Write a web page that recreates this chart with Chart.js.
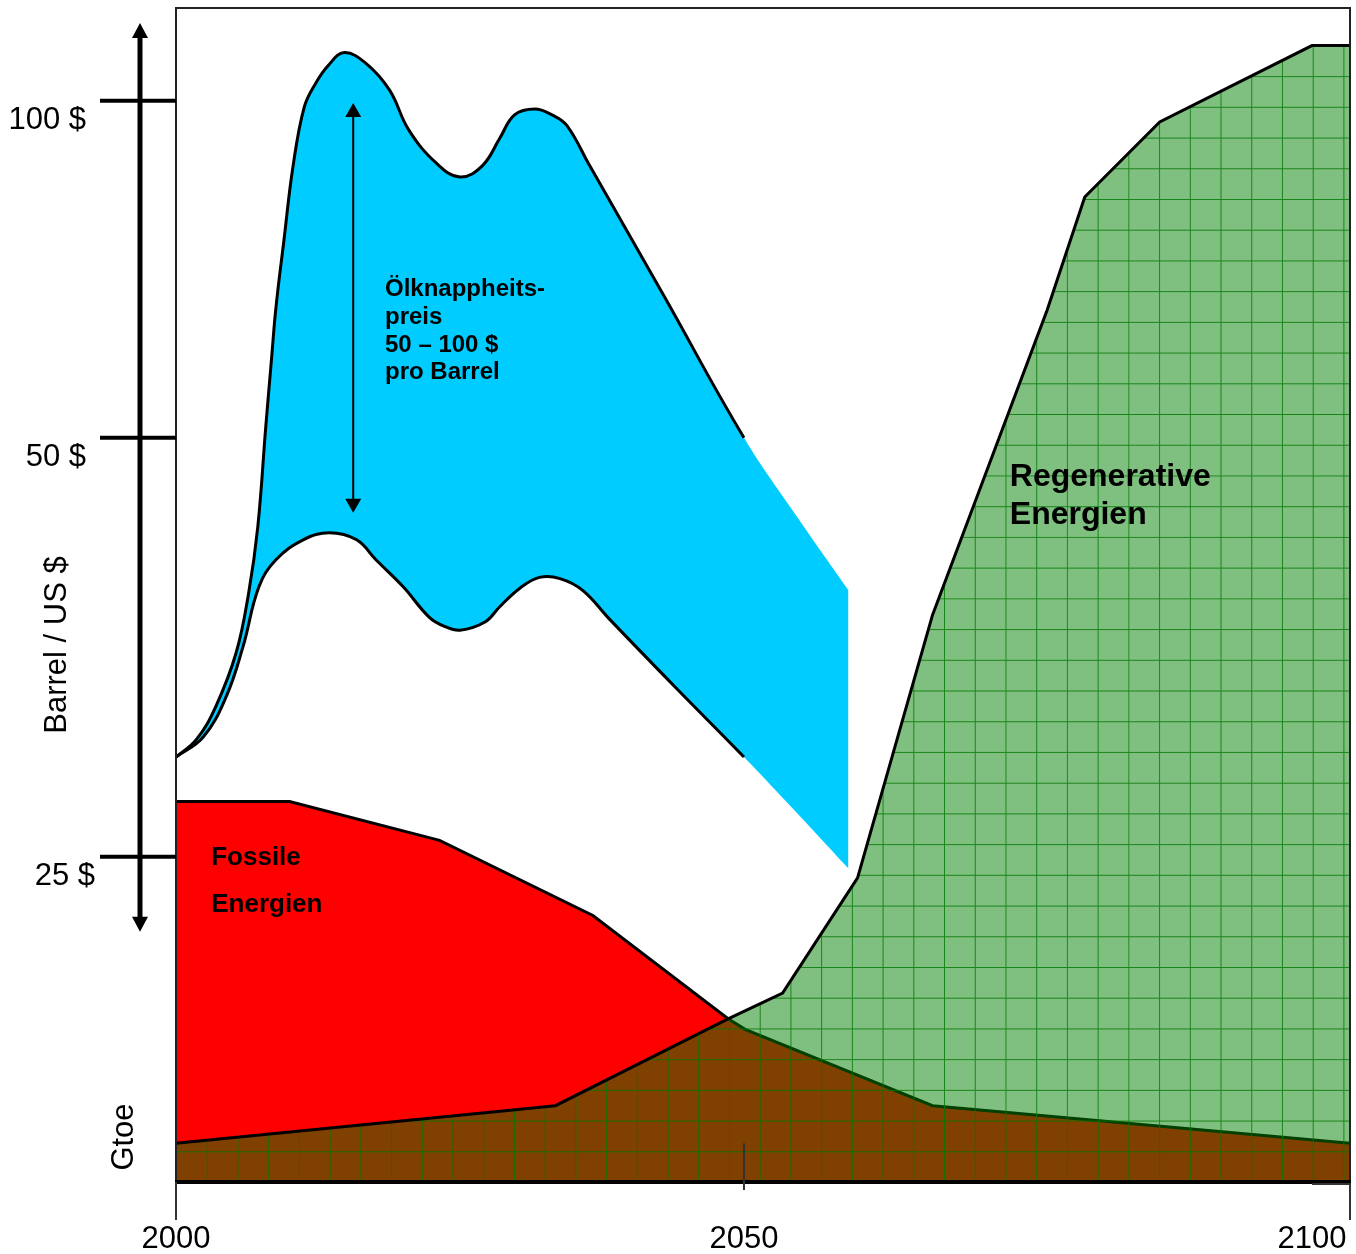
<!DOCTYPE html>
<html>
<head>
<meta charset="utf-8">
<script src="https://cdn.jsdelivr.net/npm/chart.js@4.4.1/dist/chart.umd.min.js"></script>
<style>
  html, body { margin: 0; padding: 0; background: #fff; }
  #wrap { width: 1356px; height: 1254px; position: relative; }
</style>
</head>
<body>
<div id="wrap"><canvas id="energie"></canvas></div>
<script>
/* ===================== DATEN ===================== */
// Jahre / Werte (Hoehe in % der Achse)
const preisObenJahre = [2000, 2001.8, 2003.5, 2005.3, 2006.4, 2007.2, 2007.9, 2008.4, 2008.8, 2009.5, 2010.3, 2011.3, 2012.3, 2013.4, 2014.8, 2016.7, 2018.8, 2020.5, 2022.9, 2025.0, 2027.0, 2028.5, 2029.8, 2031.6, 2033.1, 2034.4, 2036.4, 2043.0, 2050.0, 2054.5, 2059.2];
const preisObenWerte = [36.2, 37.7, 40.5, 45.1, 50.2, 55.8, 64.3, 70.0, 74.5, 80.2, 86.5, 91.6, 93.6, 95.1, 96.2, 95.3, 93.0, 89.6, 86.8, 85.6, 86.6, 88.9, 90.9, 91.4, 90.9, 90.0, 86.6, 75.4, 63.4, 56.9, 50.4];

const preisUntenJahre = [2000, 2002.4, 2004.4, 2005.9, 2007.3, 2008.8, 2011.2, 2013.5, 2015.9, 2017.6, 2020.0, 2022.3, 2023.7, 2025.0, 2027.2, 2028.5, 2030.3, 2032.0, 2033.8, 2035.8, 2038.2, 2044.0, 2050.0, 2054.5, 2059.2];
const preisUntenWerte = [36.2, 37.9, 41.3, 45.6, 50.7, 53.0, 54.7, 55.3, 54.7, 53.0, 50.7, 48.1, 47.3, 47.0, 47.7, 49.0, 50.6, 51.5, 51.4, 50.4, 47.9, 42.1, 36.2, 31.6, 26.7];

const fossilJahre = [2000, 2010.0, 2023.2, 2036.7, 2048.6, 2050.1, 2066.6, 2103.35];
const fossilWerte = [32.4, 32.4, 29.1, 22.7, 13.9, 13.0, 6.5, 3.3];

const regenJahre = [2000, 2033.4, 2048.6, 2053.4, 2060.0, 2066.6, 2076.7, 2080.0, 2086.6, 2100.0, 2103.35];
const regenWerte = [3.3, 6.5, 13.9, 16.1, 25.9, 48.3, 74.3, 83.9, 90.3, 96.8, 96.8];

const jahrTicks = [2000, 2050, 2100];
const preisTickLabels = ["100 $", "50 $", "25 $"];
const preisTickWerte = [92.1, 63.4, 27.7];

/* ===================== UTIL ===================== */
const punkte = (xs, ys) => xs.map((x, i) => ({ x, y: ys[i] }));
const SCHRIFT = '"Liberation Sans", Arial, sans-serif';

const bisJahr2050 = {
  borderColor: (s) => (s.p0.parsed.x >= 2050 ? "rgba(0,0,0,0)" : "#000"),
};

function gitterMuster(ctx, a) {
  const t = document.createElement("canvas");
  t.width = 31;
  t.height = 31;
  const g = t.getContext("2d");
  g.fillStyle = "rgba(0,128,0,0.5)";
  g.fillRect(0, 0, 31, 31);
  g.fillStyle = "rgba(0,120,0,0.8)";
  g.fillRect(0, 0, 31, 1);
  g.fillRect(0, 1, 1, 30);
  const p = ctx.createPattern(t, "repeat");
  p.setTransform(new DOMMatrix().translate(a.left, a.bottom).scale(30.72 / 31));
  return p;
}

function pfeil(ctx, x, yOben, yUnten, dicke, kopfL, kopfB) {
  ctx.lineWidth = dicke;
  ctx.beginPath();
  ctx.moveTo(x, yOben + kopfL - 1);
  ctx.lineTo(x, yUnten - kopfL + 1);
  ctx.stroke();
  ctx.beginPath();
  ctx.moveTo(x, yOben);
  ctx.lineTo(x - kopfB, yOben + kopfL);
  ctx.lineTo(x + kopfB, yOben + kopfL);
  ctx.closePath();
  ctx.moveTo(x, yUnten);
  ctx.lineTo(x - kopfB, yUnten - kopfL);
  ctx.lineTo(x + kopfB, yUnten - kopfL);
  ctx.closePath();
  ctx.fill();
}

/* ===================== ACHSEN + TEXTE ===================== */
const deko = {
  id: "deko",
  afterDatasetsDraw(chart) {
    const { ctx, chartArea: a, scales } = chart;
    const sx = scales.x, sy = scales.y;
    ctx.save();

    // Rahmen
    ctx.strokeStyle = "#222";
    ctx.lineWidth = 2;
    ctx.beginPath();
    ctx.moveTo(a.left, a.bottom);
    ctx.lineTo(a.left, a.top);
    ctx.lineTo(a.right, a.top);
    ctx.lineTo(a.right, a.bottom);
    ctx.stroke();
    ctx.lineWidth = 4;
    ctx.strokeStyle = "#000";
    ctx.beginPath();
    ctx.moveTo(a.left - 1, a.bottom);
    ctx.lineTo(a.right + 1, a.bottom);
    ctx.stroke();

    // Jahres-Ticks
    ctx.strokeStyle = "#333";
    ctx.lineWidth = 2;
    ctx.beginPath();
    ctx.moveTo(a.left, a.bottom);
    ctx.lineTo(a.left, a.bottom + 38);
    ctx.moveTo(sx.getPixelForValue(2050), sy.getPixelForValue(3.3));
    ctx.lineTo(sx.getPixelForValue(2050), a.bottom + 8);
    ctx.moveTo(a.right - 38, a.bottom + 2);
    ctx.lineTo(a.right, a.bottom + 2);
    ctx.lineTo(a.right, a.bottom + 38);
    ctx.stroke();

    ctx.fillStyle = "#000";
    ctx.font = "31px " + SCHRIFT;
    ctx.textAlign = "center";
    ctx.textBaseline = "middle";
    jahrTicks.forEach((j) => ctx.fillText(String(j), sx.getPixelForValue(j), a.bottom + 57));

    // Preisachse
    const ax = a.left - 36;
    ctx.strokeStyle = "#000";
    ctx.fillStyle = "#000";
    pfeil(ctx, ax, a.top + 15, sy.getPixelForValue(preisTickWerte[2]) + 75, 5, 15, 8);
    ctx.lineWidth = 4;
    const rechts = [86, 86, 95];
    preisTickWerte.forEach((v, i) => {
      const py = sy.getPixelForValue(v);
      ctx.beginPath();
      ctx.moveTo(100, py);
      ctx.lineTo(a.left, py);
      ctx.stroke();
      ctx.textAlign = "right";
      ctx.fillText(preisTickLabels[i], rechts[i], py + 20);
    });

    // Achsentitel
    ctx.textAlign = "center";
    ctx.save();
    ctx.translate(57, 645);
    ctx.rotate(-Math.PI / 2);
    ctx.fillText("Barrel / US $", 0, 0);
    ctx.restore();
    ctx.save();
    ctx.translate(124, 1137);
    ctx.rotate(-Math.PI / 2);
    ctx.fillText("Gtoe", 0, 0);
    ctx.restore();

    // Spanne Oelpreis
    pfeil(ctx, sx.getPixelForValue(2015.6), sy.getPixelForValue(91.9), sy.getPixelForValue(57.0), 2, 14, 8);
    ctx.textAlign = "left";
    ctx.font = "bold 24px " + SCHRIFT;
    const tx = sx.getPixelForValue(2018.4);
    const ty = sy.getPixelForValue(76.0);
    ["Ölknappheits-", "preis", "50 – 100 $", "pro Barrel"].forEach((z, i) =>
      ctx.fillText(z, tx, ty + i * 27.7)
    );

    ctx.font = "bold 32px " + SCHRIFT;
    const rx = sx.getPixelForValue(2073.4);
    ctx.fillText("Regenerative", rx, sy.getPixelForValue(60.0));
    ctx.fillText("Energien", rx, sy.getPixelForValue(56.8));

    ctx.font = "bold 26px " + SCHRIFT;
    const fx = sx.getPixelForValue(2003.1);
    ctx.fillText("Fossile", fx, sy.getPixelForValue(27.6));
    ctx.fillText("Energien", fx, sy.getPixelForValue(23.6));

    ctx.restore();
  },
};

/* ===================== CHART ===================== */
new Chart(document.getElementById("energie"), {
  type: "line",
  data: {
    datasets: [
      {
        label: "Ölpreis oben",
        data: punkte(preisObenJahre, preisObenWerte),
        fill: "+1",
        backgroundColor: "#00CCFF",
        borderColor: "#000",
        borderWidth: 3,
        tension: 0.4,
        segment: bisJahr2050,
        order: 3,
      },
      {
        label: "Ölpreis unten",
        data: punkte(preisUntenJahre, preisUntenWerte),
        fill: false,
        borderColor: "#000",
        borderWidth: 3,
        tension: 0.4,
        segment: bisJahr2050,
        order: 2,
      },
      {
        label: "Fossile Energien",
        data: punkte(fossilJahre, fossilWerte),
        fill: "start",
        backgroundColor: "#FF0000",
        borderColor: "#000",
        borderWidth: 3,
        tension: 0,
        order: 1,
      },
      {
        label: "Regenerative Energien",
        data: punkte(regenJahre, regenWerte),
        fill: "start",
        backgroundColor: (c) =>
          c.chart.chartArea ? gitterMuster(c.chart.ctx, c.chart.chartArea) : "rgba(0,128,0,0.5)",
        borderColor: "#000",
        borderWidth: 3,
        tension: 0,
        order: 0,
      },
    ],
  },
  plugins: [deko],
  options: {
    responsive: true,
    maintainAspectRatio: false,
    animation: false,
    layout: { padding: { left: 176, right: 6, top: 8, bottom: 72 } },
    elements: { point: { radius: 0, hoverRadius: 0 } },
    plugins: { legend: { display: false }, tooltip: { enabled: false } },
    scales: {
      x: { type: "linear", min: 2000, max: 2103.35, display: false },
      y: { type: "linear", min: 0, max: 100, display: false },
    },
  },
});
</script>
</body>
</html>
